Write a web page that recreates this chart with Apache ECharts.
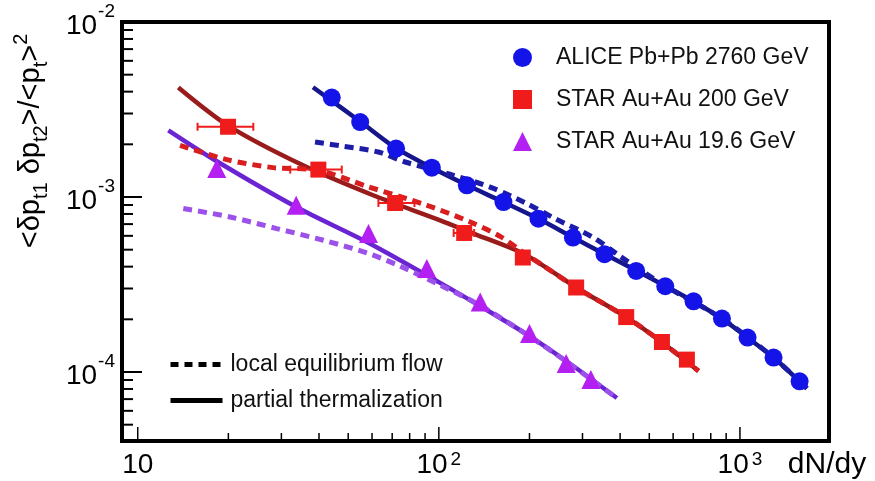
<!DOCTYPE html>
<html>
<head>
<meta charset="utf-8">
<script src="https://cdn.jsdelivr.net/npm/echarts@6/dist/echarts.min.js"></script>
<style>
  html, body { margin: 0; padding: 0; background: #fff; }
  #chart { width: 875px; height: 481px; }
</style>
</head>
<body>
<div id="chart"></div>
<script>
const FONT = "'Liberation Sans', Arial, Helvetica, sans-serif";

// Axis ranges (log-log)
const X_MIN = 8.867, X_MAX = 1976;
const Y_MIN = 4.034e-5, Y_MAX = 1e-2;

// Tick positions and labels
const xMajorTicks = [10, 100, 1000];
const xMajorExp = ['', '2', '3'];
const xMinorTicks = [20, 30, 40, 50, 60, 70, 80, 90, 200, 300, 400, 500, 600, 700, 800, 900];
const yMajorTicks = [1e-4, 1e-3, 1e-2];
const yMajorExp = ['-4', '-3', '-2'];
const yMinorTicks = [5e-5, 6e-5, 7e-5, 8e-5, 9e-5,
  2e-4, 3e-4, 4e-4, 5e-4, 6e-4, 7e-4, 8e-4, 9e-4,
  2e-3, 3e-3, 4e-3, 5e-3, 6e-3, 7e-3, 8e-3, 9e-3];

// Measured data
const aliceX = [44.1, 54.8, 72.1, 94.8, 123.9, 163.9, 214.2, 278.8, 354.9, 452.4, 564.9, 701.4, 871.5, 1060, 1293, 1578];
const aliceY = [3.70e-3, 2.68e-3, 1.89e-3, 1.47e-3, 1.166e-3, 9.36e-4, 7.52e-4, 5.86e-4, 4.71e-4, 3.78e-4, 3.09e-4, 2.535e-4, 2.02e-4, 1.572e-4, 1.209e-4, 8.85e-5];

const star200X = [19.95, 39.8, 71.6, 121.4, 190.1, 285.8, 419.1, 550.8, 666.6];
const star200Y = [2.52e-3, 1.434e-3, 9.24e-4, 6.23e-4, 4.51e-4, 3.04e-4, 2.06e-4, 1.484e-4, 1.177e-4];
const star200XLow = [15.8, 32.1, 63.0, 112.0];
const star200XHigh = [24.2, 47.6, 83.0, 131.0];

const star19X = [18.3, 33.6, 58.4, 91.2, 137.2, 200.0, 264.8, 319.9];
const star19Y = [1.453e-3, 8.97e-4, 6.18e-4, 3.90e-4, 2.51e-4, 1.657e-4, 1.117e-4, 9.05e-5];

// Model curves: partial thermalization (solid) and local equilibrium flow (dashed)
const alicePtX = [38.2, 54.8, 72.1, 94.8, 123.9, 163.9, 214.2, 278.8, 354.9, 452.4, 564.9, 701.4, 871.5, 1060, 1293, 1670];
const alicePtY = [4.24e-3, 2.70e-3, 1.90e-3, 1.47e-3, 1.17e-3, 9.35e-4, 7.5e-4, 5.88e-4, 4.72e-4, 3.80e-4, 3.1e-4, 2.53e-4, 2.02e-4, 1.57e-4, 1.21e-4, 8.05e-5];
const aliceLeX = [38.8, 48.2, 63.0, 77.3, 111.8, 148.0, 196.0, 243.4, 326.3, 400.3, 564.9, 871.5, 1293, 1670];
const aliceLeY = [2.06e-3, 1.95e-3, 1.807e-3, 1.585e-3, 1.33e-3, 1.14e-3, 9.17e-4, 7.52e-4, 5.86e-4, 4.58e-4, 3.1e-4, 2.02e-4, 1.21e-4, 8.05e-5];

const star200PtX = [13.64, 20.0, 35.4, 60.5, 101, 130.3, 186.3, 217.0, 285.8, 419.1, 550.8, 728.6];
const star200PtY = [4.22e-3, 2.55e-3, 1.517e-3, 1.023e-3, 7.36e-4, 6.18e-4, 4.85e-4, 4.16e-4, 3.04e-4, 2.06e-4, 1.48e-4, 1.013e-4];
const star200LeX = [13.82, 19.75, 28.2, 39.8, 57.7, 91.2, 127.1, 159.8, 186.3, 217.0, 285.8, 419.1, 550.8, 728.6];
const star200LeY = [1.975e-3, 1.636e-3, 1.472e-3, 1.421e-3, 1.151e-3, 8.97e-4, 7.20e-4, 5.96e-4, 4.96e-4, 4.16e-4, 3.04e-4, 2.06e-4, 1.48e-4, 1.013e-4];

const star19PtX = [12.64, 18.3, 33.6, 57.7, 101, 137.2, 200, 264.8, 390.3];
const star19PtY = [2.405e-3, 1.60e-3, 8.77e-4, 5.53e-4, 3.23e-4, 2.38e-4, 1.605e-4, 1.156e-4, 7.10e-5];
const star19LeX = [14.17, 20.26, 28.96, 41.4, 57.7, 74.3, 101, 137.2, 200, 264.8, 390.3];
const star19LeY = [8.59e-4, 7.69e-4, 6.60e-4, 5.66e-4, 4.79e-4, 4.03e-4, 3.14e-4, 2.40e-4, 1.60e-4, 1.15e-4, 7.10e-5];

const seriesNames = ['ALICE Pb+Pb 2760 GeV', 'STAR Au+Au 200 GeV', 'STAR Au+Au 19.6 GeV'];
const styleNames = ['local equilibrium flow', 'partial thermalization'];

const BLUE = '#1414e8', BLUE_PT = '#15158c', BLUE_LE = '#1c1ca6';
const RED = '#f01c1c', RED_PT = '#991b1b', RED_LE = '#d81e1e';
const VIOLET = '#b41ff2', VIOLET_PT = '#6a24d2', VIOLET_LE = '#9c52ea';

const zip = (xs, ys) => xs.map((x, i) => [x, ys[i]]);

function curve(name, xs, ys, color, dashed) {
  return {
    name: name, type: 'line', data: zip(xs, ys), symbol: 'none', smooth: 0.3,
    silent: true, animation: false,
    lineStyle: { color: color, width: dashed ? 5 : 4.5, type: dashed ? [9, 6] : 'solid', cap: 'butt' },
    z: dashed ? 3 : 2
  };
}

function markers(name, xs, ys, symbol, size, color) {
  return {
    name: name, type: 'scatter', data: zip(xs, ys), symbol: symbol, symbolSize: size,
    itemStyle: { color: color, opacity: 1 }, animation: false, z: 5
  };
}

// Legend-only entry for a line style; its single point sits outside the axes and is clipped.
function styleKey(name, lineType) {
  return {
    name: name, type: 'line', data: [[1, 1]], symbol: 'none', showSymbol: false,
    silent: true, clip: true,
    itemStyle: { color: '#000' },
    lineStyle: { color: '#000', width: 5, type: lineType, cap: 'butt' }
  };
}

const tickStroke = { stroke: '#000', lineWidth: 2 };

function xTickRenderer(major) {
  return function (params, api) {
    const p = api.coord([api.value(0), Y_MIN]);
    const len = major ? 14 : 8;
    const children = [{
      type: 'line',
      shape: { x1: p[0], y1: p[1], x2: p[0], y2: p[1] - len },
      style: { stroke: '#000', lineWidth: 1.5 }
    }];
    if (major) {
      const exp = xMajorExp[params.dataIndex];
      children.push({
        type: 'text', x: p[0], y: p[1] + 24,
        style: {
          text: exp ? '{b|10}{s|' + exp + '}' : '{b|10}',
          align: 'center', verticalAlign: 'middle',
          rich: {
            b: { fontSize: 28, lineHeight: 30, fontFamily: FONT, fill: '#000' },
            s: { fontSize: 19, lineHeight: 19, verticalAlign: 'top', fontFamily: FONT, fill: '#000', padding: [0, 0, 0, 3] }
          }
        }
      });
    }
    return { type: 'group', children: children };
  };
}

function yTickRenderer(major) {
  return function (params, api) {
    const p = api.coord([X_MIN, api.value(1)]);
    const len = major ? 20 : 11;
    const children = [{
      type: 'line',
      shape: { x1: p[0], y1: p[1], x2: p[0] + len, y2: p[1] },
      style: tickStroke
    }];
    if (major) {
      children.push({
        type: 'text', x: 115, y: p[1] + 4,
        style: {
          text: '{b|10}{s|' + yMajorExp[params.dataIndex] + '}',
          align: 'right', verticalAlign: 'middle',
          rich: {
            b: { fontSize: 28, lineHeight: 48, fontFamily: FONT, fill: '#000' },
            s: { fontSize: 19, lineHeight: 19, verticalAlign: 'top', fontFamily: FONT, fill: '#000', padding: [0, 0, 0, 1] }
          }
        }
      });
    }
    return { type: 'group', children: children };
  };
}

function errorBarRenderer(params, api) {
  const y = api.value(1);
  const a = api.coord([api.value(2), y]);
  const b = api.coord([api.value(3), y]);
  const cap = 4;
  const st = { stroke: RED, lineWidth: 2 };
  return {
    type: 'group', children: [
      { type: 'line', shape: { x1: a[0], y1: a[1], x2: b[0], y2: b[1] }, style: st },
      { type: 'line', shape: { x1: a[0], y1: a[1] - cap, x2: a[0], y2: a[1] + cap }, style: st },
      { type: 'line', shape: { x1: b[0], y1: b[1] - cap, x2: b[0], y2: b[1] + cap }, style: st }
    ]
  };
}

const chart = echarts.init(document.getElementById('chart'));

const option = {
  animation: false,
  backgroundColor: '#fff',
  grid: {
    left: 122, right: 46, top: 22, bottom: 40,
    show: true, borderColor: '#000', borderWidth: 4, backgroundColor: 'transparent'
  },
  xAxis: {
    type: 'log', logBase: 10, min: X_MIN, max: X_MAX,
    axisLine: { show: false }, axisTick: { show: false },
    axisLabel: { show: false }, splitLine: { show: false }
  },
  yAxis: {
    type: 'log', logBase: 10, min: Y_MIN, max: Y_MAX,
    axisLine: { show: false }, axisTick: { show: false },
    axisLabel: { show: false }, splitLine: { show: false }
  },
  legend: [
    {
      data: seriesNames, orient: 'vertical', left: 513, top: 46,
      itemWidth: 19, itemHeight: 19, itemGap: 19, padding: 0,
      selectedMode: false,
      textStyle: { fontSize: 23, fontFamily: FONT, color: '#111', padding: [0, 0, 0, 19] }
    },
    {
      data: styleNames, orient: 'vertical', left: 168, top: 353,
      itemWidth: 52, itemHeight: 14, itemGap: 13, padding: 0,
      selectedMode: false,
      lineStyle: { width: 5 },
      itemStyle: { opacity: 0 },
      textStyle: { fontSize: 23, fontFamily: FONT, color: '#111', padding: [0, 0, 0, 3] }
    }
  ],
  graphic: [
    {
      type: 'text', x: 31, y: 141, rotation: Math.PI / 2,
      style: {
        text: '{m|<δp}{s|t1}{m| δp}{s|t2}{m|>/<p}{s|t}{m|>}{p|2}',
        align: 'center', verticalAlign: 'middle',
        rich: {
          m: { fontSize: 29, lineHeight: 40, fontFamily: FONT, fill: '#000' },
          s: { fontSize: 20, lineHeight: 20, verticalAlign: 'bottom', fontFamily: FONT, fill: '#000' },
          p: { fontSize: 20, lineHeight: 20, verticalAlign: 'top', fontFamily: FONT, fill: '#000' }
        }
      }
    },
    {
      type: 'text', x: 827, y: 465,
      style: { text: 'dN/dy', fontSize: 30, fontFamily: FONT, fill: '#000', align: 'center', verticalAlign: 'middle' }
    }
  ],
  series: [
    curve('ALICE partial thermalization', alicePtX, alicePtY, BLUE_PT, false),
    curve('STAR 200 partial thermalization', star200PtX, star200PtY, RED_PT, false),
    curve('STAR 19.6 partial thermalization', star19PtX, star19PtY, VIOLET_PT, false),
    curve('ALICE local equilibrium flow', aliceLeX, aliceLeY, BLUE_LE, true),
    curve('STAR 200 local equilibrium flow', star200LeX, star200LeY, RED_LE, true),
    curve('STAR 19.6 local equilibrium flow', star19LeX, star19LeY, VIOLET_LE, true),
    {
      name: 'STAR 200 errors', type: 'custom', renderItem: errorBarRenderer, silent: true, z: 4,
      data: star200XLow.map((lo, i) => [star200X[i], star200Y[i], lo, star200XHigh[i]])
    },
    markers(seriesNames[0], aliceX, aliceY, 'circle', 18, BLUE),
    markers(seriesNames[1], star200X, star200Y, 'rect', 16, RED),
    markers(seriesNames[2], star19X, star19Y, 'triangle', 19, VIOLET),
    styleKey(styleNames[0], [8, 6]),
    styleKey(styleNames[1], 'solid'),
    // axis ticks and labels
    { type: 'custom', renderItem: xTickRenderer(true), silent: true, clip: false, z: 6,
      data: xMajorTicks.map(v => [v, Y_MIN]) },
    { type: 'custom', renderItem: xTickRenderer(false), silent: true, clip: false, z: 6,
      data: xMinorTicks.map(v => [v, Y_MIN]) },
    { type: 'custom', renderItem: yTickRenderer(true), silent: true, clip: false, z: 6,
      data: yMajorTicks.map(v => [X_MIN, v]) },
    { type: 'custom', renderItem: yTickRenderer(false), silent: true, clip: false, z: 6,
      data: yMinorTicks.map(v => [X_MIN, v]) }
  ]
};

chart.setOption(option);
</script>
</body>
</html>
